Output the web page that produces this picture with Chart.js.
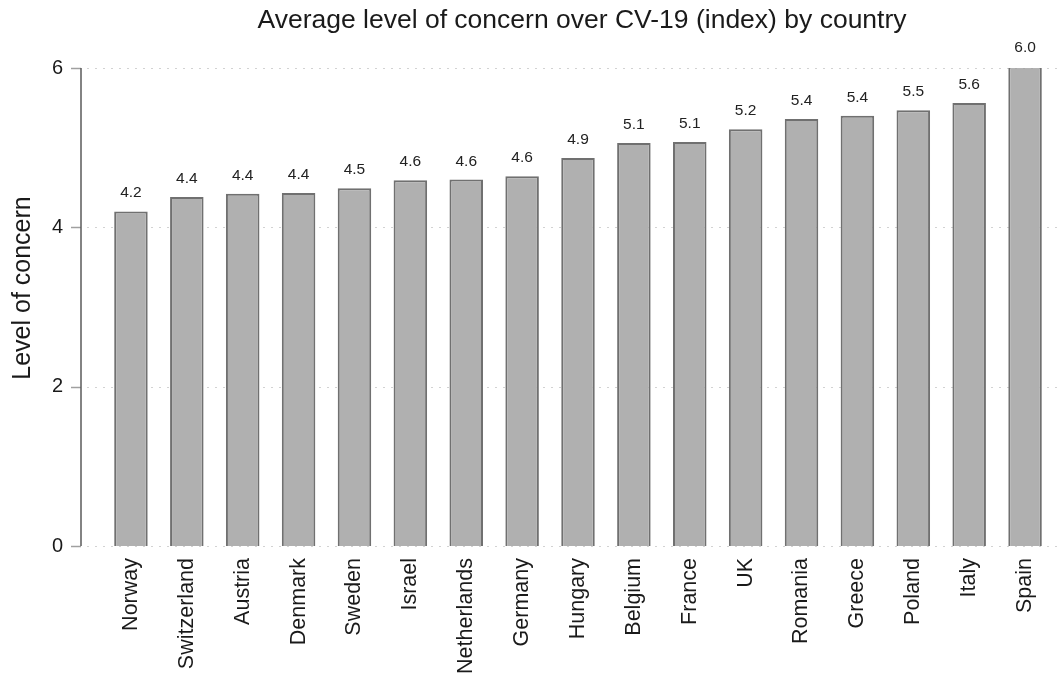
<!DOCTYPE html>
<html>
<head>
<meta charset="utf-8">
<script src="https://cdn.jsdelivr.net/npm/chart.js@4"></script>
<style>
  html, body { margin: 0; padding: 0; background: #fff; }
  #wrap { width: 1064px; height: 675px; }
</style>
</head>
<body>
<div id="wrap"><canvas id="chart"></canvas></div>
<script>
const countries = ['Norway', 'Switzerland', 'Austria', 'Denmark', 'Sweden', 'Israel', 'Netherlands', 'Germany',
  'Hungary', 'Belgium', 'France', 'UK', 'Romania', 'Greece', 'Poland', 'Italy', 'Spain'];
const concern = [4.20, 4.38, 4.42, 4.43, 4.49, 4.59, 4.60, 4.64, 4.87, 5.06, 5.07, 5.23, 5.36, 5.40, 5.47, 5.56, 6.02];
const yTicks = [0, 2, 4, 6];
const chartTitle = 'Average level of concern over CV-19 (index) by country';
const yTitle = 'Level of concern';

Chart.defaults.font.family = '"Liberation Sans", Arial, sans-serif';
Chart.defaults.color = '#1a1a1a';

// stata-like axis: line sits a bit left of the first bar, dotted grid
const axisPlugin = {
  id: 'axisPlugin',
  beforeDatasetsDraw(chart) {
    const { ctx, chartArea, scales } = chart;
    const axisX = chartArea.left - 22;
    ctx.save();
    ctx.strokeStyle = '#d2d2d2';
    ctx.lineWidth = 1;
    ctx.setLineDash([2, 6]);
    yTicks.forEach((v) => {
      const y = Math.round(scales.y.getPixelForValue(v)) + 0.5;
      ctx.beginPath();
      ctx.moveTo(axisX + 6, y);
      ctx.lineTo(chartArea.right + 7, y);
      ctx.stroke();
    });
    ctx.setLineDash([]);
    ctx.strokeStyle = '#a0a0a0';
    ctx.lineWidth = 1.5;
    yTicks.forEach((v) => {
      const y = Math.round(scales.y.getPixelForValue(v)) + 0.5;
      ctx.beginPath();
      ctx.moveTo(axisX - 10, y);
      ctx.lineTo(axisX, y);
      ctx.stroke();
    });
    ctx.strokeStyle = '#5a5a5a';
    ctx.beginPath();
    ctx.moveTo(axisX, scales.y.getPixelForValue(6));
    ctx.lineTo(axisX, scales.y.getPixelForValue(0));
    ctx.stroke();

    // y axis title
    ctx.translate(23, 288);
    ctx.rotate(-Math.PI / 2);
    ctx.font = '25px "Liberation Sans", Arial, sans-serif';
    ctx.fillStyle = '#1a1a1a';
    ctx.textAlign = 'center';
    ctx.textBaseline = 'middle';
    ctx.fillText(yTitle, 0, 0);
    ctx.restore();
  },
  afterDatasetsDraw(chart) {
    const { ctx, chartArea } = chart;
    const meta = chart.getDatasetMeta(0);
    ctx.save();
    ctx.font = '15.5px "Liberation Sans", Arial, sans-serif';
    ctx.fillStyle = '#222';
    ctx.textAlign = 'center';
    ctx.textBaseline = 'alphabetic';
    meta.data.forEach((bar, i) => {
      ctx.fillText(concern[i].toFixed(1), bar.x, bar.y - 14);
    });
    ctx.font = '26.5px "Liberation Sans", Arial, sans-serif';
    ctx.fillStyle = '#1a1a1a';
    ctx.textBaseline = 'middle';
    ctx.fillText(chartTitle, (chartArea.left + chartArea.right) / 2 + 4, 21);
    ctx.restore();
  }
};

new Chart(document.getElementById('chart'), {
  type: 'bar',
  data: {
    labels: countries,
    datasets: [
      {
        data: concern,
        backgroundColor: '#b0b0b0',
        borderColor: '#707070',
        borderWidth: 2,
        barPercentage: 0.6,
        categoryPercentage: 1,
      },
    ],
  },
  options: {
    responsive: true,
    maintainAspectRatio: false,
    animation: false,
    layout: { padding: { top: 68, right: 11, bottom: 0, left: 0 } },
    plugins: {
      legend: { display: false },
      tooltip: { enabled: false },
    },
    scales: {
      x: {
        afterFit: (s) => { s.height = 129; },
        grid: { display: false, drawTicks: false },
        border: { display: false },
        ticks: { minRotation: 90, maxRotation: 90, padding: 12, font: { size: 21.5 }, autoSkip: false },
      },
      y: {
        min: 0,
        max: 6,
        afterBuildTicks: (s) => { s.ticks = yTicks.map((v) => ({ value: v })); },
        afterFit: (s) => { s.width = 103; },
        grid: { display: false, drawTicks: false },
        border: { display: false },
        ticks: { padding: 40, font: { size: 20 } },
      },
    },
  },
  plugins: [axisPlugin],
});
</script>
</body>
</html>
